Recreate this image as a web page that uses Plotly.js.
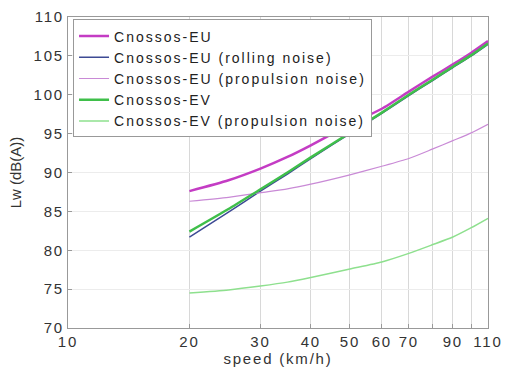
<!DOCTYPE html>
<html>
<head>
<meta charset="utf-8">
<script src="https://cdn.plot.ly/plotly-3.0.1.min.js"></script>
<style>
html,body{margin:0;padding:0;background:#fff;}
#chart{width:506px;height:368px;}
.legendtext{letter-spacing:2.0px;}
.xtick text, .ytick text, text.xtitle{letter-spacing:1.8px;}
</style>
</head>
<body>
<div id="chart"></div>
<script>
const speed = [20, 25, 30, 35, 40, 50, 60, 70, 80, 90, 100, 110];
const euTotal = [87.6, 89.0, 90.5, 92.0, 93.5, 96.2, 98.2, 100.4, 102.3, 103.9, 105.4, 106.9];
const euRolling = [81.7, 84.9, 87.6, 89.8, 91.8, 95.0, 97.6, 99.9, 101.8, 103.5, 105.0, 106.5];
const euPropulsion = [86.3, 86.8, 87.4, 87.9, 88.5, 89.7, 90.8, 91.8, 93.0, 94.1, 95.1, 96.2];
const evTotal = [82.4, 85.3, 87.85, 90.0, 91.95, 95.1, 97.7, 100.0, 101.9, 103.6, 105.1, 106.6];
const evPropulsion = [74.5, 74.9, 75.4, 75.9, 76.5, 77.6, 78.5, 79.6, 80.7, 81.7, 82.9, 84.1];

const xTickVals = [10, 20, 30, 40, 50, 60, 70, 80, 90, 100, 110];
const xTickText = ["10", "20", "30", "40", "50", "60", "70", "", "90", "", "110"];
const names = ["Cnossos-EU", "Cnossos-EU (rolling noise)", "Cnossos-EU (propulsion noise)", "Cnossos-EV", "Cnossos-EV (propulsion noise)"];

const traces = [
  {y: euTotal, color: "#c43cc4", width: 2.5},
  {y: euRolling, color: "#3d4a94", width: 1.5},
  {y: euPropulsion, color: "#c98ad6", width: 1.2},
  {y: evTotal, color: "#3fbf4a", width: 2.5},
  {y: evPropulsion, color: "#8ee08e", width: 1.5}
].map((t, i) => ({
  x: speed, y: t.y, name: names[i], type: "scatter", mode: "lines",
  line: {color: t.color, width: t.width, shape: "spline", smoothing: 0.6}
}));

const font = {family: "Liberation Sans, Arial, sans-serif", size: 15, color: "#333"};
const layout = {
  width: 506, height: 368,
  margin: {l: 68, r: 18, t: 17, b: 40},
  paper_bgcolor: "#fff", plot_bgcolor: "#fff",
  font: font,
  showlegend: true,
  legend: {
    x: 0.012, y: 0.992, xanchor: "left", yanchor: "top",
    bgcolor: "#fff", bordercolor: "#999", borderwidth: 1,
    font: {family: "Liberation Sans, Arial, sans-serif", size: 14, color: "#222"},
    tracegroupgap: 0, itemwidth: 30
  },
  xaxis: {
    type: "log", range: [1, Math.log10(110)],
    tickmode: "array", tickvals: xTickVals, ticktext: xTickText,
    showgrid: true, gridcolor: "#d8d8d8", gridwidth: 1,
    showline: true, linecolor: "#999", linewidth: 1, mirror: true,
    ticks: "inside", ticklen: 4, tickcolor: "#999",
    zeroline: false, tickfont: font,
    title: {text: "speed (km/h)", font: font, standoff: 4}
  },
  yaxis: {
    range: [70, 110], dtick: 5, tick0: 70,
    showgrid: true, gridcolor: "#ececec", gridwidth: 1,
    showline: true, linecolor: "#999", linewidth: 1, mirror: true,
    ticks: "inside", ticklen: 4, tickcolor: "#999",
    zeroline: false, tickfont: font,
    title: {text: "Lw (dB(A))", font: font, standoff: 8}
  }
};
Plotly.newPlot("chart", traces, layout, {displayModeBar: false, staticPlot: true});
</script>
</body>
</html>
